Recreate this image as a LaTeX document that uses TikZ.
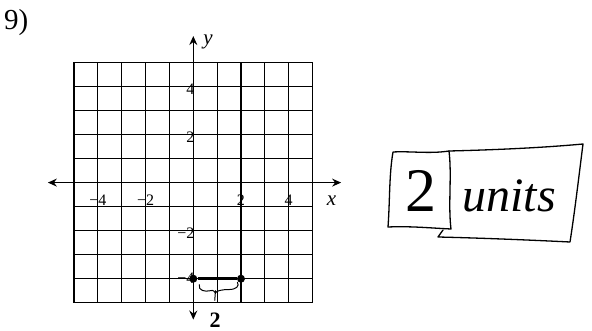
\documentclass[tikz,border=0pt]{standalone}
\usepackage{fontspec}
\setmainfont{Liberation Serif}
\usetikzlibrary{arrows.meta}
\begin{document}
\begin{tikzpicture}[x=1pt,y=-1pt,
  gridline/.style={line width=1.1pt,black},
  axisline/.style={line width=1.3pt,-{Stealth[length=9pt,width=8pt,inset=3pt]}},
  ticklbl/.style={font=\fontsize{16}{18}\selectfont,inner sep=0pt},
  axlbl/.style={font=\fontsize{21}{22}\selectfont\itshape,inner sep=0pt},
  dotpt/.style={circle,fill=black,inner sep=0pt,minimum size=8pt},
  hand/.style={line width=1.3pt,line join=round,line cap=round}]
\useasboundingbox (0,0) rectangle (592,331);
\node[anchor=north west,inner sep=0pt,font=\fontsize{29}{32}\selectfont] (num) at (4,9) {9)};
\begin{scope}[shift={(193.3,182.6)},x=23.84pt,y=24.03pt]
  \foreach \i in {-5,...,5} {
    \draw[gridline] (\i,-5) -- (\i,5);
    \draw[gridline] (-5,\i) -- (5,\i);
  }
  \draw[line width=1.4pt] (-5,-5) rectangle (5,5);
  \coordinate (xl) at (-6.1,0);
  \coordinate (xr) at (6.2,0);
  \coordinate (yt) at (0,6.1);
  \coordinate (yb) at (0,-5.7);
  \coordinate (o) at (0,0);
  \draw[axisline] (o) -- (xl);
  \draw[axisline] (o) -- (xr);
  \draw[axisline] (o) -- (yt);
  \draw[axisline] (o) -- (yb);
  \node[axlbl] (ylab) at (0.62,5.85) {y};
  \node[axlbl] (xlab) at (5.8,-0.75) {x};
  \node[ticklbl] (xm4) at (-4,-0.75) {\char"2212 4};
  \node[ticklbl] (xm2) at (-2,-0.75) {\char"2212 2};
  \node[ticklbl] (xp2) at (2,-0.75) {2};
  \node[ticklbl] (xp4) at (4,-0.75) {4};
  \node[ticklbl,anchor=east] (yp4) at (0.05,3.9) {4};
  \node[ticklbl,anchor=east] (yp2) at (0.05,1.9) {2};
  \node[ticklbl,anchor=east] (ym2) at (0.05,-2.1) {\char"2212 2};
  \node[ticklbl,anchor=east] (ym4) at (0.05,-4.0) {\char"2212 4};
  \node[dotpt] (pa) at (0,-4) {};
  \node[dotpt] (pb) at (2,-4) {};
  \draw[line width=2.6pt] (pa) -- (pb);
  \draw[hand,line width=1pt] (0.25,-4.25) .. controls (0.2,-4.5) and (0.5,-4.55) .. (0.7,-4.5)
     .. controls (0.85,-4.45) and (0.9,-4.55) .. (0.93,-4.6)
     .. controls (0.95,-4.5) and (1.2,-4.45) .. (1.5,-4.45)
     .. controls (1.8,-4.45) and (1.95,-4.3) .. (1.85,-4.15);
  \draw[hand,line width=1pt] (0.93,-4.5) -- (0.9,-4.9);
\end{scope}
\node[font=\fontsize{22}{24}\selectfont\bfseries,anchor=base,inner sep=0pt] (two) at (215,327) {2};
% answer box
\draw[hand] (393,152) .. controls (410,151) and (430,154) .. (449,151)
  .. controls (452,175) and (448,205) .. (451,229)
  .. controls (430,228) and (410,226) .. (388,227)
  .. controls (390,200) and (389,175) .. (393,152);
\draw[hand] (449,151) .. controls (490,150) and (540,148) .. (583,144)
  .. controls (579,175) and (575,210) .. (570,242)
  .. controls (530,240) and (480,238) .. (438,237)
  -- (443,230);
\node[font=\fontsize{62}{64}\selectfont,inner sep=0pt,anchor=base] (ans) at (421,212) {2};
\node[font=\fontsize{48}{50}\selectfont\itshape,inner sep=0pt,anchor=base] (units) at (509,212) {units};
\end{tikzpicture}
\end{document}
